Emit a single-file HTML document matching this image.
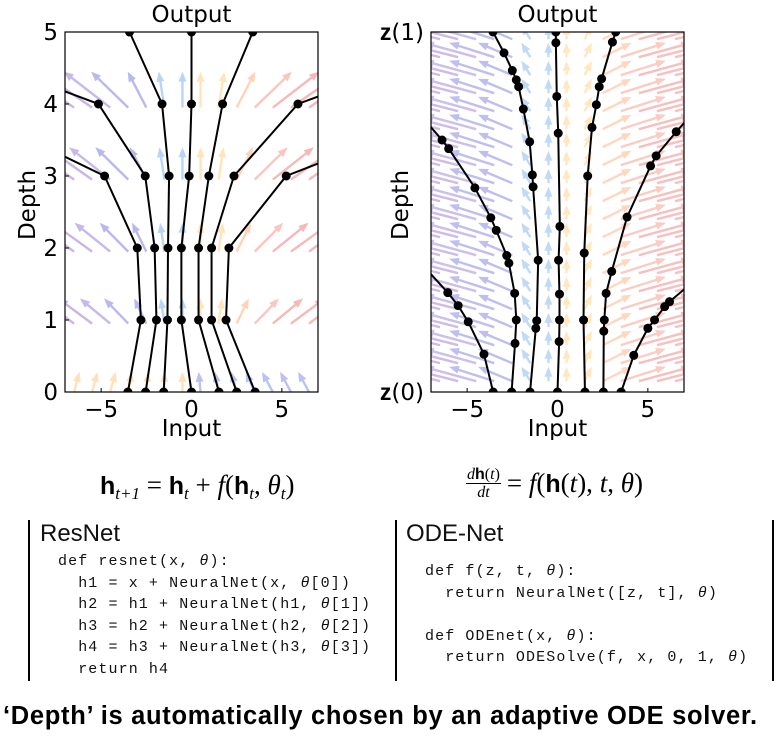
<!DOCTYPE html>
<html><head><meta charset="utf-8">
<style>
body{margin:0;background:#fff;width:784px;height:746px;overflow:hidden;position:relative;font-family:"DejaVu Sans","Liberation Sans",sans-serif}
.abs{position:absolute;white-space:nowrap}
.eq{font-family:"Liberation Serif",serif;font-size:27px}
.eq b{font-family:"Liberation Sans",sans-serif;font-weight:bold;font-size:25px}
.eq sub{font-size:17px;font-style:italic;vertical-align:-5px}
.code{font-family:"Liberation Mono",monospace;font-size:15px;letter-spacing:1.1px;line-height:21.5px;color:#111}
.ttl{font-family:"Liberation Sans",sans-serif;font-size:24px;color:#111}
</style></head><body>
<svg id="chart" width="784" height="440" style="position:absolute;left:0;top:0" xmlns="http://www.w3.org/2000/svg"></svg>

<div class="abs eq" style="left:100px;top:470px"><b>h</b><sub>t+1</sub> = <b>h</b><sub>t</sub> + <i>f</i>(<b>h</b><sub>t</sub>, <i>θ</i><sub>t</sub>)</div>
<div class="abs eq" style="left:466px;top:466px;display:flex;align-items:center">
 <span style="display:inline-flex;flex-direction:column;align-items:center;font-size:16px;line-height:17px;margin-right:6px"><span style="border-bottom:1px solid #000;padding:0 1px"><i>d</i><b style="font-size:16px">h</b>(<i>t</i>)</span><span><i>dt</i></span></span>
 <span>= <i>f</i>(<b>h</b>(<i>t</i>), <i>t</i>, <i>θ</i>)</span></div>

<div class="abs" style="left:28px;top:520px;width:2px;height:161px;background:#000"></div>
<div class="abs" style="left:395px;top:520px;width:2px;height:161px;background:#000"></div>
<div class="abs" style="left:772px;top:520px;width:2px;height:161px;background:#000"></div>

<div class="abs ttl" style="left:40px;top:520px">ResNet</div>
<div class="abs code" style="left:58px;top:551px">def resnet(x, <i>θ</i>):<br>&nbsp;&nbsp;h1 = x + NeuralNet(x, <i>θ</i>[0])<br>&nbsp;&nbsp;h2 = h1 + NeuralNet(h1, <i>θ</i>[1])<br>&nbsp;&nbsp;h3 = h2 + NeuralNet(h2, <i>θ</i>[2])<br>&nbsp;&nbsp;h4 = h3 + NeuralNet(h3, <i>θ</i>[3])<br>&nbsp;&nbsp;return h4</div>

<div class="abs ttl" style="left:406px;top:520px">ODE-Net</div>
<div class="abs code" style="left:425px;top:561px">def f(z, t, <i>θ</i>):<br>&nbsp;&nbsp;return NeuralNet([z, t], <i>θ</i>)<br><br>def ODEnet(x, <i>θ</i>):<br>&nbsp;&nbsp;return ODESolve(f, x, 0, 1, <i>θ</i>)</div>

<div class="abs" style="left:3px;top:702px;font-family:'Liberation Sans',sans-serif;font-weight:bold;font-size:25.5px;letter-spacing:0.7px;color:#000">‘Depth’ is automatically chosen by an adaptive ODE solver.</div>

<script>
// ---- data ----
const fieldCols = [-6.5,-5.5,-4.5,-3.5,-2.5,-1.5,-0.5,0.5,1.5,2.5,3.5,4.5,5.5,6.5];
const leftRowDepths = [1,2,3,4];
const leftRowDx = [-2.8,-2.8,-2.5,-2.0,-1.0,-0.3,0,0,0.3,1.0,2.0,2.5,2.8,2.8];
const leftBottomDx = [0.3,0.3,0.3,0.2,0.1,0,0,-0.1,-0.2,-0.3,-0.5,-0.6,-0.6,-0.6];
const rightRowTimes = [0.03,0.08,0.13,0.18,0.23,0.28,0.33,0.38,0.43,0.48,0.53,0.58,0.63,0.68,0.73,0.78,0.83,0.88,0.93,0.98];
const rightRowDx = [-3.2,-3.1,-2.9,-2.5,-1.9,-0.5,0,0,0.4,1.6,2.5,2.9,3.1,3.2];
const colColors = ["#a07ad0","#a07ad0","#9a80d8","#8080e0","#8080e0","#80b4f0","#80b4f0","#ffd080","#ffd080","#ffb080","#f59a8a","#f08080","#f08080","#f08080"];

const resDepths = [0,1,2,3,4,5];
const resTraj = [
 [-3.52,-2.80,-3.00,-4.81,-13.0,-20],
 [-2.54,-1.94,-2.04,-2.56,-5.15,-15.8],
 [-1.54,-1.33,-1.30,-1.24,-1.63,-3.43],
 [0,-0.56,-0.56,-0.13,0,0],
 [1.52,0.39,0.39,0.96,1.72,3.39],
 [2.50,1.11,1.11,2.35,5.89,16.6],
 [3.52,1.91,2.07,5.24,15.4,25]
];
const odeX = [
 [-3.56,-4.07,-4.94,-5.5,-6.07,-7.6],
 [-2.54,-2.35,-2.28,-2.37,-2.69,-2.81,-3.39,-3.69,-4.57,-6.02,-6.39,-7.6],
 [-1.52,-1.2,-1.15,-1.07,-1.35,-1.39,-1.54,-1.89,-2.15,-2.28,-2.5,-2.96,-3.57],
 [0,0.09,0.11,0.11,0.06,0.13,0.04,-0.04,-0.09,-0.09],
 [1.52,1.44,1.48,1.67,1.91,2.15,2.31,2.44,3.04,3.22],
 [2.54,2.56,2.59,2.69,3.0,3.85,5.15,5.46,6.57,7.6],
 [3.52,4.22,5.0,5.37,5.93,6.2,7.6]
];
const odeT = [
 [0,0.105,0.195,0.24,0.276,0.36],
 [0,0.135,0.2,0.274,0.358,0.379,0.449,0.484,0.567,0.676,0.7,0.77],
 [0,0.177,0.198,0.366,0.57,0.603,0.695,0.786,0.848,0.867,0.893,0.942,1.0],
 [0,0.14,0.2,0.272,0.366,0.46,0.719,0.821,0.97,1.0],
 [0,0.2,0.386,0.6,0.735,0.798,0.848,0.87,0.972,1.0],
 [0,0.169,0.2,0.274,0.335,0.486,0.628,0.656,0.723,0.78],
 [0,0.102,0.177,0.2,0.237,0.251,0.31]
];
const xTicks = [-5,0,5];
const xTickLabels = ["−5","0","5"];
const depthTicks = [0,1,2,3,4,5];

// ---- drawing ----
const NS="http://www.w3.org/2000/svg";
const svg=document.getElementById('chart');
function mk(tag,attrs,parent){const e=document.createElementNS(NS,tag);for(const k in attrs)e.setAttribute(k,attrs[k]);(parent||svg).appendChild(e);return e;}
const defs=mk('defs',{});
function panel(id,x0,x1,ymin,ymax){
 const P={x0,x1,y0:32,y1:392,xs:v=>x0+(v+7)/14*(x1-x0),ys:v=>392-(v-ymin)/(ymax-ymin)*360};
 const cp=mk('clipPath',{id:id+'-clip'},defs);mk('rect',{x:x0,y:32,width:x1-x0,height:360},cp);
 P.g=mk('g',{'clip-path':'url(#'+id+'-clip)'});
 
 
 return P;
}
function arrow(P,x,y,dx,dy,color,op){
 const ax=P.xs(x),ay=P.ys(y),bx=P.xs(x+dx),by=P.ys(y+dy);
 const L=Math.hypot(bx-ax,by-ay)||1,ux=(bx-ax)/L,uy=(by-ay)/L;
 const g=mk('g',{opacity:op},P.g);
 
 
 const hl=Math.min(10,L*0.75),hw=4;
 mk('line',{x1:ax,y1:ay,x2:bx-ux*hl*0.8,y2:by-uy*hl*0.8,stroke:color,'stroke-width':2.4},g);
 mk('polygon',{points:`${bx},${by} ${bx-ux*hl-uy*hw},${by-uy*hl+ux*hw} ${bx-ux*hl+uy*hw},${by-uy*hl-ux*hw}`,fill:color},g);
}
function traj(P,xs,ys){
 const pts=xs.map((v,i)=>P.xs(v)+','+P.ys(ys[i])).join(' ');
 const pl=mk('polyline',{points:pts,fill:'none',stroke:'#000','stroke-width':2},P.g);
 
 
 xs.forEach((v,i)=>{ if(Math.abs(v)<=7.2){
   const c=mk('circle',{cx:P.xs(v),cy:P.ys(ys[i]),r:4.5,fill:'#000'},P.g);
   
   }});
}
function axes(P,name,yTickFn){
 const r=mk('rect',{x:P.x0,y:32,width:P.x1-P.x0,height:360,fill:'none',stroke:'#000','stroke-width':1.2});
 
 
 xTicks.forEach((t,i)=>{
  mk('line',{x1:P.xs(t),x2:P.xs(t),y1:392,y2:388,stroke:'#000'});
  const tx=mk('text',{x:P.xs(t),y:417,'text-anchor':'middle','font-size':23,fill:'#000'});
  tx.textContent=xTickLabels[i];
  
  
 });
 const t1=mk('text',{x:(P.x0+P.x1)/2,y:22,'text-anchor':'middle','font-size':23});t1.textContent='Output';
 
 
 const t2=mk('text',{x:(P.x0+P.x1)/2,y:436,'text-anchor':'middle','font-size':23});t2.textContent='Input';
 
 
 yTickFn();
}
// Left panel
const L=panel('resnet',65,318,0,5);
leftRowDepths.forEach(d=>fieldCols.forEach((c,i)=>arrow(L,c,d-0.05,leftRowDx[i]*(0.55+0.12*d),0.3+0.05*d,colColors[i],0.55)));
fieldCols.forEach((c,i)=>arrow(L,c,0,leftBottomDx[i],0.28,i<7?"#ffc880":"#8890e8",0.55));
resTraj.forEach(xs=>traj(L,xs,resDepths));
axes(L,'resnet',()=>{
 depthTicks.forEach(d=>{
  mk('line',{x1:65,x2:69,y1:L.ys(d),y2:L.ys(d),stroke:'#000'});
  const t=mk('text',{x:58,y:L.ys(d)+8,'text-anchor':'end','font-size':23});t.textContent=d;
  
  
 });
 const yt=mk('text',{x:0,y:0,'text-anchor':'middle','font-size':23,transform:'translate(35,205) rotate(-90)'});yt.textContent='Depth';
 
 
});
// Right panel
const R=panel('odenet',431,684,0,1);
rightRowTimes.forEach(t=>fieldCols.forEach((c,i)=>arrow(R,c,t,rightRowDx[i],0.04,colColors[i],0.5)));
odeX.forEach((xs,k)=>traj(R,xs,odeT[k]));
axes(R,'odenet',()=>{
 [[0,'0'],[1,'1']].forEach(([v,s])=>{
  const t=mk('text',{x:424,y:R.ys(v)+8,'text-anchor':'end','font-size':23});
  t.innerHTML='<tspan font-weight="bold" font-family="Liberation Sans">z</tspan>('+s+')';
  
  
 });
 const yt=mk('text',{x:0,y:0,'text-anchor':'middle','font-size':23,transform:'translate(408,205) rotate(-90)'});yt.textContent='Depth';
 
 
});
</script>
</body></html>
